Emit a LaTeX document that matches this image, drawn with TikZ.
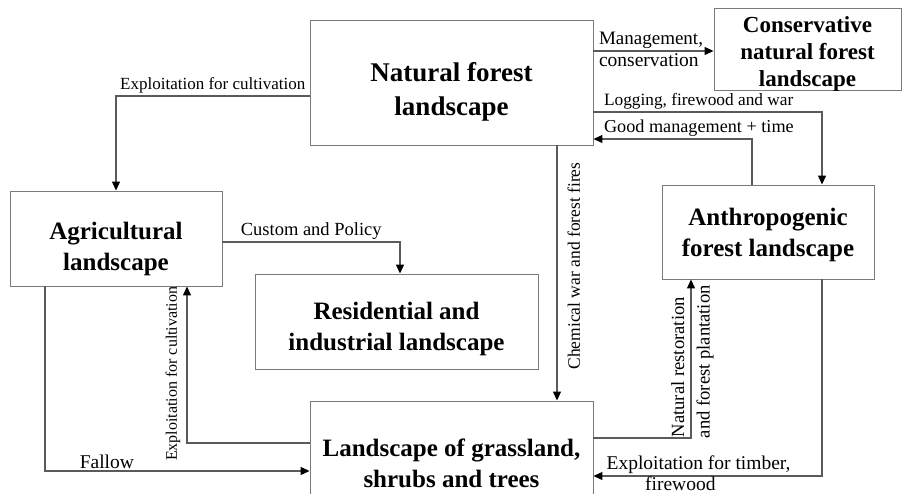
\documentclass[tikz,border=0pt]{standalone}
\usepackage{fontspec}
\setmainfont{Liberation Serif}
\usepackage{tikz}
\usetikzlibrary{arrows.meta}
\definecolor{Edge}{HTML}{5A5A5A}
\definecolor{Frame}{HTML}{7A7A7A}
% invisible strut that pushes the box text down
\newcommand{\lift}[1]{\rule{0pt}{#1}}

\begin{document}
\begin{tikzpicture}[x=1pt, y=-1pt,
                land/.style={draw=Frame, line width=0.9pt, align=center,
                             font=\fontsize{25}{31}\selectfont\bfseries,
                             inner sep=0pt},
                flow/.style={draw=Edge, line width=1.2pt,
                             -{Triangle[length=9pt,width=8pt,black]}},
                lbl/.style={font=\fontsize{#1}{#1}\selectfont, inner sep=2pt},
                lbl/.default=17]
                \clip (0,0) rectangle (902,494);

                \node[land, minimum width=283pt, minimum height=125pt,
                      font=\fontsize{27}{34}\selectfont\bfseries]     (nat)   at (451.5, 82.5) {\lift{38pt}Natural forest\\landscape};
                \node[land, minimum width=187pt, minimum height=81pt,
                      font=\fontsize{23}{27}\selectfont\bfseries]     (cons)  at (807.5, 49.5) {\lift{24pt}Conservative\\natural forest\\landscape};
                \node[land, minimum width=212pt, minimum height=95pt]  (agri)  at (116, 238.5)  {\lift{39pt}Agricultural\\landscape};
                \node[land, minimum width=283pt, minimum height=95pt]  (resi)  at (396.5, 321.5) {\lift{33pt}Residential and\\industrial landscape};
                \node[land, minimum width=212pt, minimum height=94pt]  (anth)  at (768, 232)    {\lift{23pt}Anthropogenic\\forest landscape};
                \node[land, minimum width=283pt, minimum height=124pt] (grass) at (451.5, 463)  {Landscape of grassland,\\shrubs and trees};

                \draw[flow] ([yshift=-13.5pt]nat.west) -| (agri.north)
                    node[lbl, pos=0.25, above] {Exploitation for cultivation};
                \draw[flow] ([yshift=31.5pt]nat.east) -- ([yshift=31.5pt]nat.east -| cons.west)
                    node[lbl=19, pos=0, anchor=south west, xshift=3pt] {Management,}
                    node[lbl=19.5, pos=0, anchor=north west, xshift=3pt] {conservation};
                \draw[flow] ([yshift=-29.5pt]nat.east) -| ([xshift=54pt]anth.north)
                    node[lbl=17.3, pos=0, anchor=south west, xshift=8pt] {Logging, firewood and war};
                \draw[flow] ([xshift=-16pt]anth.north) |- ([yshift=-56.5pt]nat.east)
                    node[lbl=18.2, pos=1, anchor=south west, xshift=8pt] {Good management + time};
                \draw[flow] ([xshift=105.5pt]nat.south) -- ([xshift=105.5pt]nat.south |- grass.north)
                    node[lbl=17.5, midway, rotate=90, anchor=north, xshift=7pt, yshift=-8pt] {Chemical war and forest fires};
                \draw[flow] ([yshift=-3.5pt]agri.east) -| ([xshift=3.5pt]resi.north)
                    node[lbl=18.5, pos=0.25, above] {Custom and Policy};
                \draw[flow] ([yshift=20pt]grass.west) -| ([xshift=71pt]agri.south)
                    node[lbl=16, pos=0.75, rotate=90, anchor=south, xshift=-9pt, yshift=4pt] {Exploitation for cultivation};
                \draw[flow] ([xshift=-71pt]agri.south) |- ([yshift=-8pt]grass.west)
                    node[lbl=19.5, pos=0.617, above] {Fallow};
                \draw[flow] ([yshift=25pt]grass.east) -| ([xshift=-77pt]anth.south)
                    node[lbl=18.6, pos=0.75, rotate=90, anchor=south, xshift=-8.5pt, yshift=4pt] {Natural restoration}
                    node[lbl=18.6, pos=0.75, rotate=90, anchor=north, xshift=-3pt, yshift=-3pt] {and forest plantation};
                \draw[flow] ([xshift=54pt]anth.south) |- ([yshift=-13pt]grass.east)
                    node[lbl=19.5, pos=0.77, above] {Exploitation for timber,}
                    node[lbl=19.5, pos=0.81, below, yshift=2pt] {firewood};
            \end{tikzpicture}
\end{document}
